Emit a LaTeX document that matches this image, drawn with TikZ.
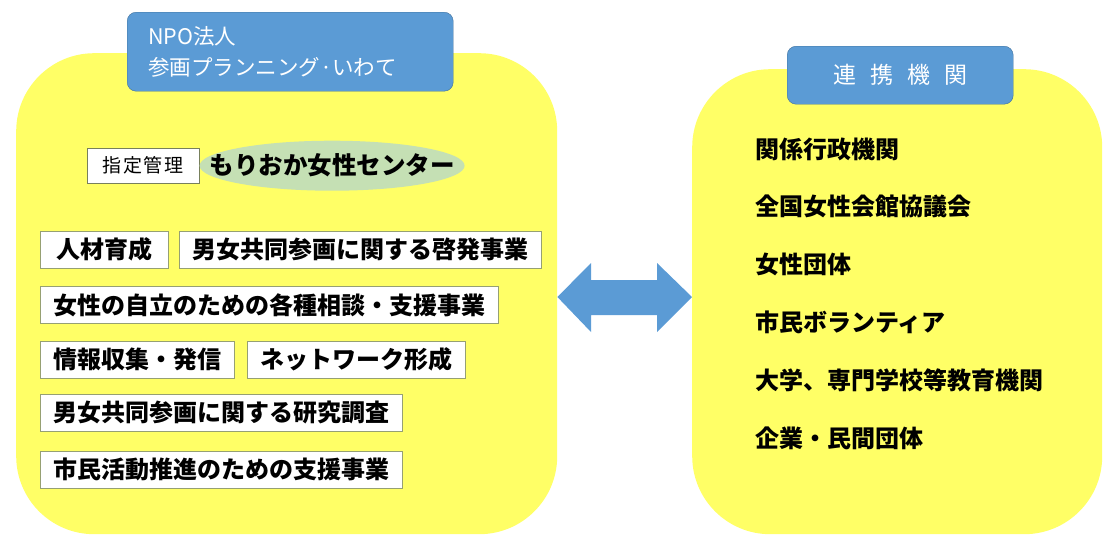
\documentclass[tikz,border=0pt]{standalone}
\usepackage{fontspec}
\newfontfamily\jp{Noto Sans CJK JP}
\newfontfamily\jpwide[LetterSpace=8]{Noto Sans CJK JP}
\usetikzlibrary{shapes.geometric, positioning, calc}
\definecolor{panelyellow}{RGB}{255,255,102}
\definecolor{titleblue}{RGB}{91,155,213}
\definecolor{titleline}{RGB}{65,113,156}
\definecolor{leafgreen}{RGB}{197,224,180}
\definecolor{boxline}{RGB}{150,160,115}

\begin{document}
\begin{tikzpicture}[
  x=1pt, y=-1pt,
  panel/.style={rectangle, rounded corners=78pt, fill=panelyellow, anchor=north west, inner sep=0pt},
  title/.style={rectangle, rounded corners=9pt, draw=titleline, fill=titleblue, text=white, anchor=north west, inner sep=0pt},
  task/.style={rectangle, draw=boxline, fill=white, font=\jp\bfseries\fontsize{24}{24}\selectfont, minimum height=37pt, inner xsep=13pt, inner ysep=0pt, anchor=north west},
  partner/.style={font=\jp\bfseries\fontsize{24}{24}\selectfont, text height=20pt, text depth=4pt, inner sep=0pt}
]
  \useasboundingbox (0,0) rectangle (1115,541);

  % two panels
  \node[panel, minimum width=541pt, minimum height=481pt] (org) at (16,53) {};
  \node[panel, minimum width=410pt, minimum height=465pt] (partners) at (692,69) {};

  % titles
  \node[title, minimum width=326pt, minimum height=79pt, inner xsep=21pt, text width=284pt, align=left,
        font=\jp\fontsize{21.5}{31}\selectfont] (npo) at (127,12) {NPO法人\\参画プランニング·いわて};
  \node[title, minimum width=226pt, minimum height=58pt, font=\jp\fontsize{23}{23}\selectfont] (ties) at (787,46)
        {連\hspace{14pt}携\hspace{14pt}機\hspace{14pt}関};

  % managed facility
  \node[rectangle, draw=boxline!80!black, fill=white, minimum width=112pt, minimum height=35pt, anchor=north west,
        font=\jpwide\fontsize{19}{19}\selectfont] (designate) at (87,148) {指定管理};
  \node[ellipse, fill=leafgreen, minimum width=265pt, minimum height=50pt, inner sep=0pt, right=0pt of designate,
        label={[font=\jp\bfseries\fontsize{24.5}{24.5}\selectfont]center:もりおか女性センター}] (centre) {};

  % activities
  \node[task, minimum width=128pt] (t1) at (40,231) {人材育成};
  \node[task, right=11pt of t1] (t2) {男女共同参画に関する啓発事業};
  \node[task, below=18pt of t1.south west, anchor=north west] (t3) {女性の自立のための各種相談・支援事業};
  \node[task, below=17pt of t3.south west, anchor=north west] (t4) {情報収集・発信};
  \node[task, right=13pt of t4] (t5) {ネットワーク形成};
  \node[task, below=16pt of t4.south west, anchor=north west] (t6) {男女共同参画に関する研究調査};
  \node[task, below=19pt of t6.south west, anchor=north west] (t7) {市民活動推進のための支援事業};

  % partners
  \node[partner, anchor=west] (p1) at (755,150) {関係行政機関};
  \node[partner, below=33.5pt of p1.south west, anchor=north west] (p2) {全国女性会館協議会};
  \node[partner, below=33.5pt of p2.south west, anchor=north west] (p3) {女性団体};
  \node[partner, below=33.5pt of p3.south west, anchor=north west] (p4) {市民ボランティア};
  \node[partner, below=33.5pt of p4.south west, anchor=north west] (p5) {大学、専門学校等教育機関};
  \node[partner, below=33.5pt of p5.south west, anchor=north west] (p6) {企業・民間団体};

  % double arrow between panels
  \fill[titleblue] (org.east |- 0,297) -- (591,263) -- (591,280) -- (657,280) -- (657,263)
    -- (partners.west |- 0,297) -- (657,332) -- (657,315) -- (591,315) -- (591,332) -- cycle;
\end{tikzpicture}
\end{document}
